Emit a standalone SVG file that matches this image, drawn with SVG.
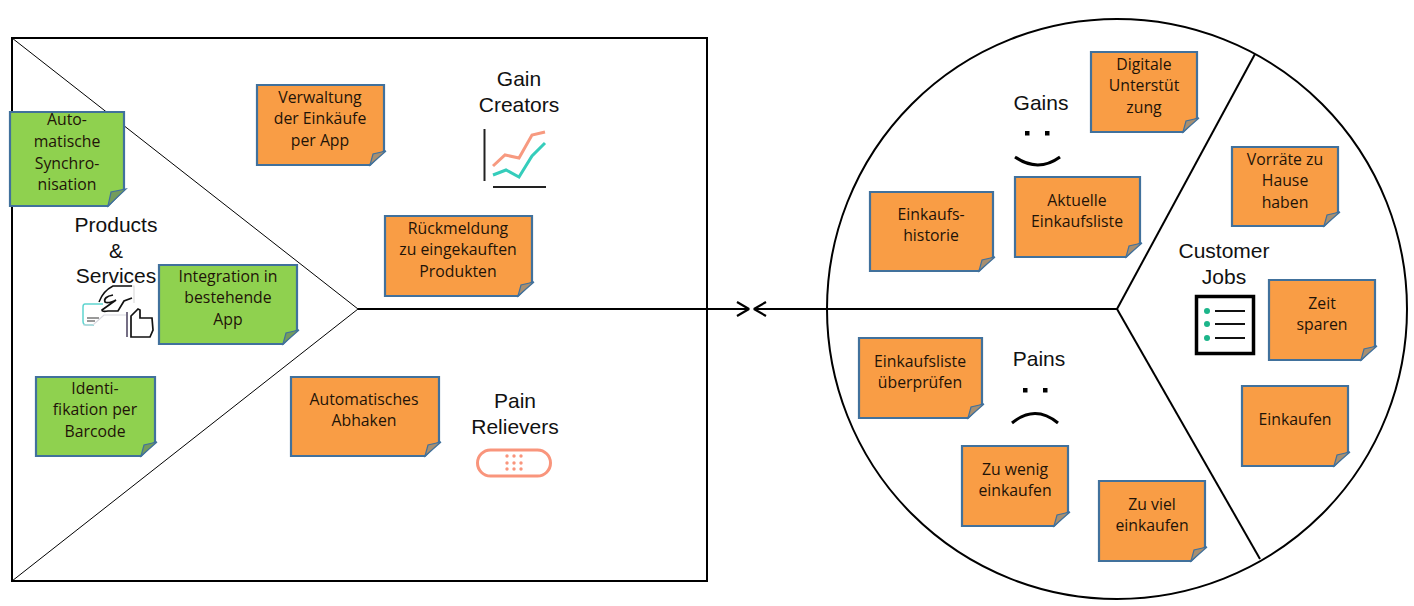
<svg xmlns="http://www.w3.org/2000/svg" width="1414" height="606" viewBox="0 0 1414 606">
<style>
.n{stroke:#41719c;stroke-width:2.2;stroke-linejoin:miter}
.o{fill:#f99d45}.g{fill:#8fd14f}
.f{stroke:#41719c;stroke-width:1.2}
.fo{fill:#a88f70}.fg{fill:#749c5c}
text{font-family:"Open Sans","Noto Sans",sans-serif;font-size:15.800px;fill:#1f1408;text-anchor:middle}
text.h{font-family:"Liberation Sans",Arial,sans-serif;font-size:21px;fill:#111}
.k{fill:none;stroke:#000;stroke-width:2}
.t{fill:none;stroke:#000;stroke-width:1}
.a{fill:none;stroke:#000;stroke-width:2.200;stroke-linejoin:bevel}
</style>
<rect id="value-map" x="12" y="38" width="695" height="543" fill="#fff" stroke="#000" stroke-width="2"/>
<path id="product-wedge" class="t" d="M12 38L358 309L12 581"/>
<circle id="customer-profile" cx="1117" cy="309" r="290" fill="#fff" stroke="#000" stroke-width="2"/>
<g id="connectors">
<path class="k" d="M358 309H748"/>
<path class="k" d="M1117 309H755"/>
<path class="a" d="M737 302L749 309L737 316"/>
<path class="a" d="M766 302L754 309L766 316"/>
<path class="k" d="M1117 309L1255 54"/>
<path class="k" d="M1117 309L1260 559"/>
</g>
<g id="gain-creators"><text class="h" x="519" y="86">Gain</text><text class="h" x="519" y="112">Creators</text>
<path d="M484.500 129V181" fill="none" stroke="#222" stroke-width="2"/><path d="M493 187H546" fill="none" stroke="#222" stroke-width="2"/>
<path d="M493 166L505 155L519 158L532 135L545 132" fill="none" stroke="#f79a80" stroke-width="3"/>
<path d="M493 175L506 170L519 177L532 156L545 143" fill="none" stroke="#35cdbb" stroke-width="3"/></g>
<g id="pain-relievers"><text class="h" x="515" y="408">Pain</text><text class="h" x="515" y="434">Relievers</text>
<rect x="477.500" y="450" width="73" height="26" rx="13" fill="#fff" stroke="#f9957c" stroke-width="3"/>
<g fill="#f9957c"><circle cx="507" cy="456" r="1.700"/><circle cx="514" cy="456" r="1.700"/><circle cx="521" cy="456" r="1.700"/><circle cx="507" cy="463" r="1.700"/><circle cx="514" cy="463" r="1.700"/><circle cx="521" cy="463" r="1.700"/><circle cx="507" cy="469" r="1.700"/><circle cx="514" cy="469" r="1.700"/><circle cx="521" cy="469" r="1.700"/></g></g>
<g id="products-services"><text class="h" x="116" y="232">Products</text><text class="h" x="116" y="258">&amp;</text><text class="h" x="116" y="283">Services</text>
<path d="M113 286H134V303" fill="none" stroke="#ddd" stroke-width="1.200"/>
<path d="M99 302Q103 291 113 286H132" fill="none" stroke="#111" stroke-width="1.500"/>
<path d="M113 295Q103 297 105 302Q108 304 116 300L102 310Q102 312 108 311L118 311L124 301L132 298" fill="none" stroke="#111" stroke-width="1.700"/>
<path d="M103 304H85Q83 304 83 307V321Q83 325 86 325H94" fill="none" stroke="#5fd5d0" stroke-width="1.500"/>
<path d="M87 318H99M87 321H95" stroke="#333" stroke-width="1"/>
<path d="M83 325H93L104 315H126" fill="none" stroke="#d8d8e0" stroke-width="1.200"/>
<path d="M127 312V337" stroke="#665f78" stroke-width="1.800"/>
<path d="M131 337V316L138 309L140 310V318H152L153 330L150 337Z" fill="#fff" stroke="#111" stroke-width="1.700"/></g>
<g id="gains"><text class="h" x="1041" y="110">Gains</text><rect x="1025" y="131" width="4.500" height="4.500"/><rect x="1045" y="131" width="4.500" height="4.500"/><path d="M1015 157Q1038 173 1060 157" fill="none" stroke="#000" stroke-width="3"/></g>
<g id="pains"><text class="h" x="1039" y="366">Pains</text><rect x="1023" y="388" width="4.500" height="4.500"/><rect x="1043" y="388" width="4.500" height="4.500"/><path d="M1012 423Q1035 404 1058 423" fill="none" stroke="#000" stroke-width="3"/></g>
<g id="customer-jobs"><text class="h" x="1224" y="258">Customer</text><text class="h" x="1224" y="284">Jobs</text>
<rect x="1196.500" y="296.500" width="57" height="57" fill="#fff" stroke="#000" stroke-width="3.500"/>
<path d="M1215 311H1245M1215 324H1245M1215 338H1245" stroke="#111" stroke-width="2"/>
<g fill="#1cb58a"><circle cx="1207" cy="311" r="3"/><circle cx="1207" cy="324" r="3"/><circle cx="1207" cy="338" r="3"/></g></g>
<g id="note-auto"><path class="n g" d="M10 112H124V189L108 206H10Z"/><path class="f fg" d="M108 206L111 192L126 189Z"/><text x="67" y="125">Auto-</text><text x="67" y="147">matische</text><text x="67" y="169">Synchro-</text><text x="67" y="190">nisation</text></g>
<g id="note-verwaltung"><path class="n o" d="M257 85H384V151L370 165H257Z"/><path class="f fo" d="M370 165L373 154L386 151Z"/><text x="320" y="103">Verwaltung</text><text x="320" y="124">der Einkäufe</text><text x="320" y="146">per App</text></g>
<g id="note-rueckmeldung"><path class="n o" d="M385 216H532V282L518 296H385Z"/><path class="f fo" d="M518 296L521 285L534 282Z"/><text x="458" y="234">Rückmeldung</text><text x="458" y="255">zu eingekauften</text><text x="458" y="277">Produkten</text></g>
<g id="note-integration"><path class="n g" d="M159 265H297V330L283 344H159Z"/><path class="f fg" d="M283 344L286 333L299 330Z"/><text x="228" y="282">Integration in</text><text x="228" y="303">bestehende</text><text x="228" y="325">App</text></g>
<g id="note-identifikation"><path class="n g" d="M36 377H155V442L141 456H36Z"/><path class="f fg" d="M141 456L144 445L157 442Z"/><text x="95" y="394">Identi-</text><text x="95" y="415">fikation per</text><text x="95" y="437">Barcode</text></g>
<g id="note-abhaken"><path class="n o" d="M291 377H439V442L425 456H291Z"/><path class="f fo" d="M425 456L428 445L441 442Z"/><text x="364" y="405">Automatisches</text><text x="364" y="426">Abhaken</text></g>
<g id="note-digitale"><path class="n o" d="M1091 52H1197V118L1183 132H1091Z"/><path class="f fo" d="M1183 132L1186 121L1199 118Z"/><text x="1144" y="70">Digitale</text><text x="1144" y="91">Unterstüt</text><text x="1144" y="113">zung</text></g>
<g id="note-historie"><path class="n o" d="M870 192H993V257L979 271H870Z"/><path class="f fo" d="M979 271L982 260L995 257Z"/><text x="931" y="220">Einkaufs-</text><text x="931" y="241">historie</text></g>
<g id="note-aktuelle"><path class="n o" d="M1015 177H1140V243L1126 257H1015Z"/><path class="f fo" d="M1126 257L1129 246L1142 243Z"/><text x="1077" y="206">Aktuelle</text><text x="1077" y="227">Einkaufsliste</text></g>
<g id="note-vorraete"><path class="n o" d="M1232 147H1338V212L1324 226H1232Z"/><path class="f fo" d="M1324 226L1327 215L1340 212Z"/><text x="1285" y="165">Vorräte zu</text><text x="1285" y="186">Hause</text><text x="1285" y="208">haben</text></g>
<g id="note-zeit"><path class="n o" d="M1269 280H1375V346L1361 360H1269Z"/><path class="f fo" d="M1361 360L1364 349L1377 346Z"/><text x="1322" y="309">Zeit</text><text x="1322" y="330">sparen</text></g>
<g id="note-einkaufen"><path class="n o" d="M1242 386H1348V452L1334 466H1242Z"/><path class="f fo" d="M1334 466L1337 455L1350 452Z"/><text x="1295" y="425">Einkaufen</text></g>
<g id="note-ueberpruefen"><path class="n o" d="M859 338H982V404L968 418H859Z"/><path class="f fo" d="M968 418L971 407L984 404Z"/><text x="920" y="367">Einkaufsliste</text><text x="920" y="388">überprüfen</text></g>
<g id="note-wenig"><path class="n o" d="M962 446H1068V512L1054 526H962Z"/><path class="f fo" d="M1054 526L1057 515L1070 512Z"/><text x="1015" y="475">Zu wenig</text><text x="1015" y="496">einkaufen</text></g>
<g id="note-viel"><path class="n o" d="M1099 481H1205V547L1191 561H1099Z"/><path class="f fo" d="M1191 561L1194 550L1207 547Z"/><text x="1152" y="510">Zu viel</text><text x="1152" y="531">einkaufen</text></g>
</svg>
